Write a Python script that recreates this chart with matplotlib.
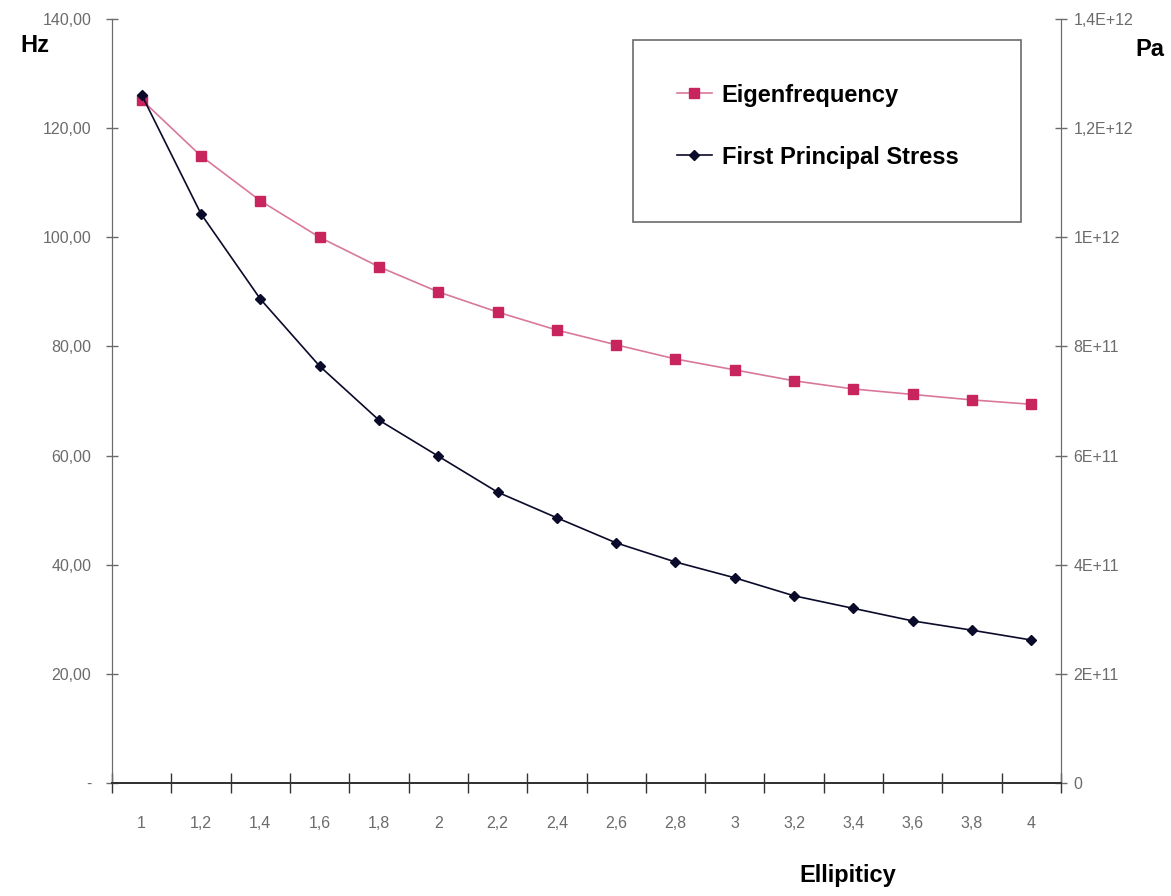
import matplotlib
matplotlib.use("Agg")
import matplotlib.pyplot as plt
from matplotlib.patches import Rectangle
import numpy as np

ELLIPTICITY = ["1", "1,2", "1,4", "1,6", "1,8", "2", "2,2", "2,4", "2,6",
               "2,8", "3", "3,2", "3,4", "3,6", "3,8", "4"]
EIGENFREQ_HZ = [125.2, 114.9, 106.7, 100.0, 94.6, 90.0, 86.3, 83.0, 80.3,
                77.7, 75.7, 73.7, 72.2, 71.2, 70.2, 69.4]
STRESS_PA = [1.261e12, 1.043e12, 0.887e12, 0.764e12, 0.665e12, 0.599e12,
             0.533e12, 0.486e12, 0.440e12, 0.405e12, 0.376e12, 0.343e12,
             0.320e12, 0.297e12, 0.280e12, 0.262e12]
HZ_TICKS = [0, 20, 40, 60, 80, 100, 120, 140]
HZ_LABELS = ["-", "20,00", "40,00", "60,00", "80,00", "100,00", "120,00", "140,00"]
PA_TICKS = [0, 2e11, 4e11, 6e11, 8e11, 1e12, 1.2e12, 1.4e12]
PA_LABELS = ["0", "2E+11", "4E+11", "6E+11", "8E+11", "1E+12", "1,2E+12", "1,4E+12"]

FONT = ["Liberation Sans Narrow", "Liberation Sans", "DejaVu Sans"]
plt.rcParams["font.family"] = FONT
PINK = "#c8245e"
PINK_LINE = "#d9789c"
NAVY = "#0a0a2a"
GREY = "#6b6b6b"

fig = plt.figure(figsize=(11.71, 8.96), dpi=100)
ax = fig.add_axes([112 / 1171, 1 - 783 / 896, (1061 - 112) / 1171, (783 - 19) / 896])
ax2 = ax.twinx()

xs = np.arange(len(ELLIPTICITY))
l1, = ax.plot(xs, EIGENFREQ_HZ, "-", color=PINK_LINE, lw=1.2, marker="s", ms=7,
              mfc=PINK, mec=PINK, label="Eigenfrequency")
l2, = ax2.plot(xs, STRESS_PA, "-", color=NAVY, lw=1.2, marker="D", ms=5.5,
               mfc=NAVY, mec=NAVY, label="First Principal Stress")

ax.set_xlim(-0.5, len(xs) - 0.5)
ax.set_ylim(0, 140)
ax2.set_ylim(0, 1.4e12)

# category boundaries carry the tick marks, labels sit between them
ax.set_xticks(np.arange(-0.5, len(xs), 1.0))
ax.set_xticklabels([])
ax.set_xticks(xs, minor=True)
ax.set_xticklabels(ELLIPTICITY, minor=True, fontsize=11.5, color=GREY)
ax.tick_params(axis="x", which="major", direction="inout", length=14, width=1, color="#333")
ax.tick_params(axis="x", which="minor", length=0, pad=24)

ax.set_yticks(HZ_TICKS)
ax.set_yticklabels(HZ_LABELS, fontsize=11.5, color=GREY)
ax.tick_params(axis="y", direction="inout", length=8, width=1, color=GREY, pad=11)
ax2.set_yticks(PA_TICKS)
ax2.set_yticklabels(PA_LABELS, fontsize=11.5, color=GREY)
ax2.tick_params(axis="y", direction="inout", length=8, width=1, color=GREY, pad=5)

for a in (ax, ax2):
    a.spines["top"].set_visible(False)
    a.spines["left"].set_color(GREY)
    a.spines["right"].set_color(GREY)
    a.spines["bottom"].set_color("#333")
    a.spines["bottom"].set_linewidth(1.4)
    a.patch.set_visible(False)

# legend frame drawn separately so its height matches the original box
fig.patches.append(Rectangle((633 / 1171, 1 - 222 / 896), 388 / 1171, 182 / 896,
                             transform=fig.transFigure, fill=True, facecolor="white",
                             edgecolor=GREY, lw=1.2, zorder=5))
leg = fig.legend([l1, l2], [l1.get_label(), l2.get_label()],
                 loc="upper left", bbox_to_anchor=(633 / 1171, 1 - 40 / 896),
                 borderaxespad=0, frameon=False,
                 prop={"family": FONT, "weight": "bold", "size": 17},
                 handlelength=1.5, handletextpad=0.4, borderpad=1.85, labelspacing=1.65)
leg.set_zorder(6)

fig.text(35 / 1171, 1 - 45 / 896, "Hz", fontsize=17, fontweight="bold", ha="center", va="center")
fig.text(1150 / 1171, 1 - 50 / 896, "Pa", fontsize=17, fontweight="bold", ha="center", va="center")
fig.text(848 / 1171, 1 - 875 / 896, "Ellipiticy", fontsize=17, fontweight="bold",
         ha="center", va="center")

fig.savefig("out.png", dpi=100)
